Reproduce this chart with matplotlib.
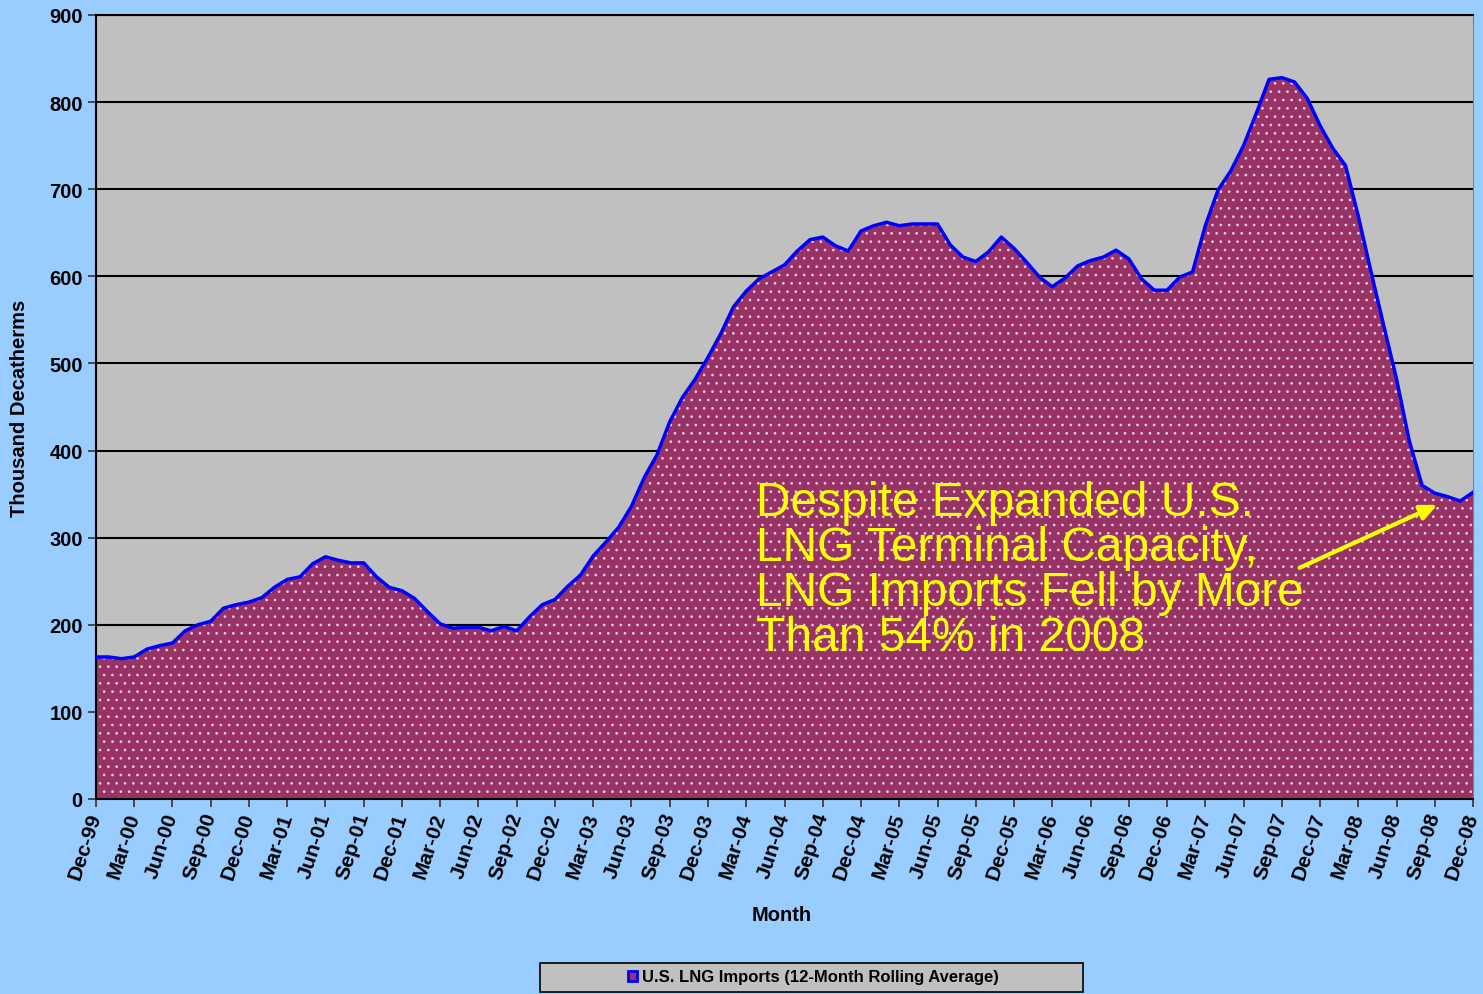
import matplotlib.pyplot as plt
from matplotlib.patches import Rectangle
import numpy as np

# monthly 12-month rolling average, Dec-99 .. Dec-08 (thousand decatherms)
imports = [
    163, 163, 161, 163, 172, 176, 179, 193, 200, 204, 219, 223,
    226, 231, 243, 252, 255, 270, 278, 274, 271, 271, 255, 243,
    239, 230, 215, 201, 196, 197, 197, 193, 198, 193, 209, 223,
    229, 244, 257, 279, 295, 312, 336, 369, 395, 433, 461, 482,
    507, 534, 565, 583, 597, 605, 613, 629, 642, 645, 635, 629,
    652, 658, 662, 658, 660, 660, 660, 636, 622, 617, 628, 645,
    632, 616, 599, 588, 598, 612, 618, 622, 630, 620, 597, 584,
    584, 599, 605, 658, 699, 721, 750, 787, 826, 828, 823, 804,
    773, 747, 727, 669, 605, 543, 482, 411, 360, 351, 347, 342,
    352,
]
months = ["Dec", "Mar", "Jun", "Sep"]
tick_labels = [f"{months[k % 4]}-{(99 + (k + 3) // 4) % 100:02d}" for k in range(37)]
y_ticks = list(range(0, 1000, 100))

plt.rcParams['font.family'] = ['Liberation Sans', 'DejaVu Sans']
plt.rcParams['hatch.color'] = '#EBD0DE'
plt.rcParams['hatch.linewidth'] = 0.7

fig = plt.figure(figsize=(14.83, 9.95), dpi=100, facecolor='#99CCFF')
ax = fig.add_axes([0.0647, 0.196, 0.9286, 0.788])
ax.set_facecolor('#C0C0C0')

x = np.arange(len(imports))
ax.fill_between(x, imports, 0, facecolor='#993366', edgecolor='#EBD0DE',
                hatch='..', linewidth=0, zorder=2)
ax.plot(x, imports, color='#0000FF', linewidth=2.5, zorder=3)

ax.set_xlim(0, len(imports) - 1)
ax.set_ylim(0, 900)
ax.set_yticks(y_ticks)
ax.set_yticklabels([str(v) for v in y_ticks], fontsize=14.5, fontweight='bold')
ax.set_xticks(np.arange(0, len(imports), 3))
ax.set_xticklabels(tick_labels, fontsize=15, fontweight='bold', rotation=72,
                   rotation_mode='anchor', ha='right', va='center')
ax.tick_params(axis='both', direction='out', length=6, width=1.2, color='#333333')
ax.tick_params(axis='x', pad=4)
ax.grid(axis='y', color='black', linewidth=1.5, zorder=1)
ax.set_axisbelow(True)
for s in ['left', 'bottom', 'top']:
    ax.spines[s].set_color('black')
    ax.spines[s].set_linewidth(1.5)
ax.spines['right'].set_color('#808080')

ax.set_ylabel('Thousand Decatherms', fontsize=14.5, fontweight='bold', va='center')
ax.yaxis.set_label_coords(-0.0552, 0.5)
ax.set_xlabel('Month', fontsize=14.5, fontweight='bold', va='center')
ax.xaxis.set_label_coords(0.498, -0.1467)

ax.text(51.8, 366, "Despite Expanded U.S.\nLNG Terminal Capacity,\nLNG Imports Fell by More\nThan 54% in 2008",
        color='yellow', fontsize=34.5, ha='left', va='top', linespacing=1.0, zorder=5)
ax.annotate('', xy=(105.4, 339), xytext=(94.2, 264),
            arrowprops=dict(arrowstyle='-|>,head_length=1.0,head_width=0.45',
                            color='yellow', lw=3), zorder=5)

# legend box
fig.patches.append(Rectangle((0.3641, 0.002), 0.3661, 0.0291, transform=fig.transFigure,
                             facecolor='#C0C0C0', edgecolor='black', linewidth=1.2))
handle = Rectangle((0, 0), 1, 1, facecolor='#993366', edgecolor='#0000FF', linewidth=2)
fig.legend([handle], ['U.S. LNG Imports (12-Month Rolling Average)'],
           loc='center', bbox_to_anchor=(0.5485, 0.0171), frameon=False,
           prop={'weight': 'bold', 'size': 12},
           handlelength=0.55, handleheight=0.55, handletextpad=0.3,
           borderpad=0, borderaxespad=0)

fig.savefig('out.png', dpi=100, facecolor=fig.get_facecolor())
